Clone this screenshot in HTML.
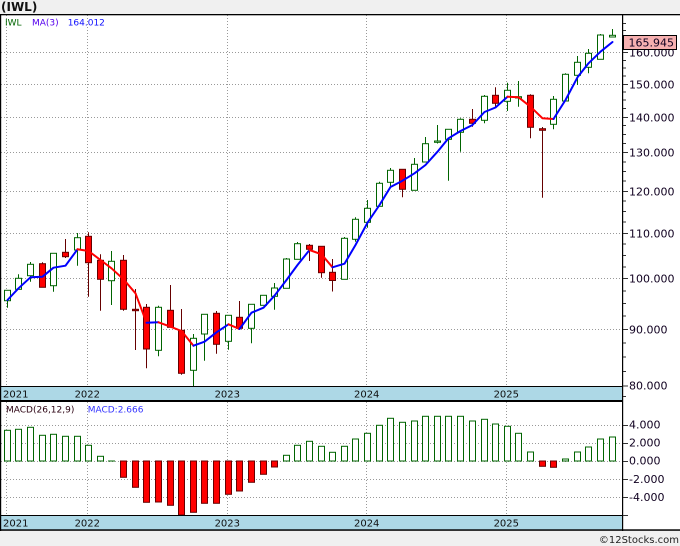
<!DOCTYPE html>
<html><head><meta charset="utf-8"><style>
html,body{margin:0;padding:0;background:#f0f0f0;}
svg{display:block;}
text{font-family:"DejaVu Sans","Liberation Sans",sans-serif;}
.g{fill:#fff;stroke:#006400;stroke-width:1}
.r{fill:#f00;stroke:#600;stroke-width:1}
.gw{stroke:#006400;stroke-width:1;fill:none}
.rw{stroke:#600;stroke-width:1;fill:none}
.grid{stroke:#999;stroke-width:1;stroke-dasharray:1,2;fill:none}
.tk{stroke:#333;stroke-width:1}
.ax{font-size:11px;fill:#100020}
.yr{font-size:10px;fill:#101010}
</style></head><body>
<svg width="680" height="546" viewBox="0 0 680 546" xmlns="http://www.w3.org/2000/svg">
<rect x="0" y="0" width="680" height="546" fill="#f0f0f0"/>
<text x="1" y="11" font-size="12" font-weight="bold" fill="#111" style="font-family:'DejaVu Sans',sans-serif">(IWL)</text>
<rect x="0" y="14" width="680" height="517" fill="#fff"/>

<!-- main grid -->
<g class="grid">
<path d="M1 52.5H622M1 84.5H622M1 117.5H622M1 152.5H622M1 191.5H622M1 233.5H622M1 278.5H622M1 329.5H622"/>
<path d="M6.5 15V386M87.5 15V386M227.5 15V386M366.5 15V386M506.5 15V386"/>
<path d="M1 425.5H622M1 443.5H622M1 461.5H622M1 479.5H622M1 497.5H622"/>
<path d="M6.5 402V515M87.5 402V515M227.5 402V515M366.5 402V515M506.5 402V515"/>
</g>

<!-- legend -->
<text x="5" y="25.5" font-size="9" fill="#006600">IWL</text>
<text x="32" y="25.5" font-size="9" fill="#5500ee">MA(3)</text>
<text x="67.7" y="25.5" font-size="9" fill="#1010ff">164.012</text>

<!-- candles -->
<path class="gw" d="M7.5 290.3V307.7"/><rect class="g" x="4.5" y="290.3" width="6" height="10.4"/>
<path class="gw" d="M18.5 274.3V289.3"/><rect class="g" x="15.5" y="278.3" width="6" height="11"/>
<path class="gw" d="M30.5 262V281.7"/><rect class="g" x="27.5" y="264.3" width="6" height="11.4"/>
<path class="rw" d="M42.5 262.3V287.3"/><rect class="r" x="39.5" y="263.7" width="6" height="23.6"/>
<path class="gw" d="M53.5 253.3V291.7"/><rect class="g" x="50.5" y="253.3" width="6" height="32.4"/>
<path class="rw" d="M65.5 239V258"/><rect class="r" x="62.5" y="252.3" width="6" height="4.4"/>
<path class="gw" d="M77.5 233V265.7"/><rect class="g" x="74.5" y="237.7" width="6" height="12.3"/>
<path class="rw" d="M88.5 232.3V296.7"/><rect class="r" x="85.5" y="236.3" width="6" height="26.4"/>
<path class="rw" d="M100.5 254.3V310.7"/><rect class="r" x="97.5" y="260.3" width="6" height="19"/>
<path class="gw" d="M111.5 251V305"/><rect class="g" x="108.5" y="261.3" width="6" height="19.4"/>
<path class="rw" d="M123.5 255V310.7"/><rect class="r" x="120.5" y="260.3" width="6" height="49"/>
<path class="rw" d="M135.5 289V350"/><rect class="r" x="132.5" y="309.3" width="6" height="1.4"/>
<path class="rw" d="M146.5 304V368.3"/><rect class="r" x="143.5" y="307.3" width="6" height="41.7"/>
<path class="gw" d="M158.5 305.7V356.3"/><rect class="g" x="155.5" y="307.3" width="6" height="43"/>
<path class="rw" d="M170.5 285V327.3"/><rect class="r" x="167.5" y="310.3" width="6" height="17"/>
<path class="rw" d="M181.5 309V374.7"/><rect class="r" x="178.5" y="330.3" width="6" height="43"/>
<path class="gw" d="M193.5 334V386"/><rect class="g" x="190.5" y="338.3" width="6" height="32"/>
<path class="gw" d="M204.5 314.3V360.7"/><rect class="g" x="201.5" y="314.3" width="6" height="19.7"/>
<path class="rw" d="M216.5 311V353.7"/><rect class="r" x="213.5" y="313.3" width="6" height="31"/>
<path class="gw" d="M228.5 315.3V349.7"/><rect class="g" x="225.5" y="315.3" width="6" height="26"/>
<path class="rw" d="M239.5 301V329.3"/><rect class="r" x="236.5" y="317.3" width="6" height="11"/>
<path class="gw" d="M251.5 304.3V343.3"/><rect class="g" x="248.5" y="304.3" width="6" height="24"/>
<path class="gw" d="M263.5 295.3V305.3"/><rect class="g" x="260.5" y="295.3" width="6" height="10"/>
<path class="gw" d="M274.5 283V309.7"/><rect class="g" x="271.5" y="288" width="6" height="8.3"/>
<path class="gw" d="M286.5 258V288.3"/><rect class="g" x="283.5" y="259" width="6" height="29.3"/>
<path class="gw" d="M297.5 242V259.3"/><rect class="g" x="294.5" y="243.7" width="6" height="15.6"/>
<path class="rw" d="M309.5 244V261"/><rect class="r" x="306.5" y="245.3" width="6" height="4"/>
<path class="rw" d="M321.5 246.3V277.7"/><rect class="r" x="318.5" y="246.3" width="6" height="26.4"/>
<path class="rw" d="M332.5 259V291.5"/><rect class="r" x="329.5" y="272.3" width="6" height="8.2"/>
<path class="gw" d="M344.5 237V279.3"/><rect class="g" x="341.5" y="238.3" width="6" height="41"/>
<path class="gw" d="M355.5 217.3V241.7"/><rect class="g" x="352.5" y="219.3" width="6" height="20"/>
<path class="gw" d="M367.5 200V227.7"/><rect class="g" x="364.5" y="208.3" width="6" height="14"/>
<path class="gw" d="M379.5 181.7V206.3"/><rect class="g" x="376.5" y="183.3" width="6" height="23"/>
<path class="gw" d="M390.5 168V186.7"/><rect class="g" x="387.5" y="170.3" width="6" height="12"/>
<path class="rw" d="M402.5 169.3V197.3"/><rect class="r" x="399.5" y="169.3" width="6" height="20"/>
<path class="gw" d="M414.5 158V190.3"/><rect class="g" x="411.5" y="164.3" width="6" height="26"/>
<path class="gw" d="M425.5 137V162"/><rect class="g" x="422.5" y="143.7" width="6" height="18.3"/>
<path class="gw" d="M437.5 125V143.5"/><rect class="g" x="434.5" y="141" width="6" height="1.3"/>
<path class="gw" d="M448.5 129.3V180.7"/><rect class="g" x="445.5" y="129.3" width="6" height="10"/>
<path class="gw" d="M460.5 118.3V151.7"/><rect class="g" x="457.5" y="119.3" width="6" height="13"/>
<path class="rw" d="M472.5 109V126.7"/><rect class="r" x="469.5" y="119.3" width="6" height="4"/>
<path class="gw" d="M484.5 95V123.3"/><rect class="g" x="481.5" y="96.3" width="6" height="24"/>
<path class="rw" d="M495.5 87.3V106.7"/><rect class="r" x="492.5" y="95.3" width="6" height="8"/>
<path class="gw" d="M507.5 82.7V111"/><rect class="g" x="504.5" y="90.3" width="6" height="11"/>
<path class="gw" d="M518.5 81V106.7"/><rect class="g" x="515.5" y="96.7" width="6" height="1.3"/>
<path class="rw" d="M530.5 94.3V138.3"/><rect class="r" x="527.5" y="95.3" width="6" height="32"/>
<path class="rw" d="M542.5 127V197.7"/><rect class="r" x="539.5" y="128.7" width="6" height="1.6"/>
<path class="gw" d="M553.5 96V129.3"/><rect class="g" x="550.5" y="99.3" width="6" height="25"/>
<path class="gw" d="M565.5 73.3V101"/><rect class="g" x="562.5" y="74.3" width="6" height="26.7"/>
<path class="gw" d="M577.5 56V85"/><rect class="g" x="574.5" y="62.3" width="6" height="13"/>
<path class="gw" d="M588.5 49V73.3"/><rect class="g" x="585.5" y="53.3" width="6" height="14"/>
<path class="gw" d="M600.5 34V59.3"/><rect class="g" x="597.5" y="35" width="6" height="24.3"/>
<path class="gw" d="M612.5 29V37"/><rect class="g" x="609.5" y="35.3" width="6" height="1.7"/>

<!-- MA(3) line -->
<g fill="none" stroke-width="2" stroke-linejoin="round" stroke-linecap="round">
<polyline stroke="#0000ff" points="7.5,300 18.5,288.3 30.5,277.3 42.5,276.7 53.5,267.7 65.5,265.7 77.5,249.3"/>
<polyline stroke="#ff0000" points="77.5,249.3 88.5,251 100.5,260 111.5,268.3 123.5,279.3 135.5,293.3 146.5,322.7"/>
<polyline stroke="#0000ff" points="146.5,322.7 158.5,322.3"/>
<polyline stroke="#ff0000" points="158.5,322.3 170.5,326.7 181.5,331 193.5,345.7"/>
<polyline stroke="#0000ff" points="193.5,345.7 204.5,341.7 216.5,332.3 228.5,324.3"/>
<polyline stroke="#ff0000" points="228.5,324.3 239.5,329"/>
<polyline stroke="#0000ff" points="239.5,329 251.5,312.7 263.5,307.7 274.5,295.7 286.5,280 297.5,265 309.5,250"/>
<polyline stroke="#ff0000" points="309.5,250 321.5,254.3 332.5,267.3"/>
<polyline stroke="#0000ff" points="332.5,267.3 344.5,263.7 355.5,245 367.5,222.7 379.5,205 390.5,187 402.5,180.7 414.5,173.3 425.5,165 437.5,151.7 448.5,138.3 460.5,131 472.5,125 484.5,112 495.5,107.5 507.5,96.7"/>
<polyline stroke="#ff0000" points="507.5,96.7 518.5,97.3 530.5,106.7 542.5,118.3 553.5,119"/>
<polyline stroke="#0000ff" points="553.5,119 565.5,100 577.5,77.3 588.5,63.3 600.5,51.7 612.5,42"/>
</g>

<!-- MACD legend -->
<text x="6" y="412.7" font-size="9" fill="#2a0010">MACD(26,12,9)</text>
<text x="87.7" y="412.7" font-size="9" fill="#3333ff">MACD:2.666</text>

<!-- MACD bars -->
<rect class="g" x="4.5" y="430.3" width="6" height="30.7"/>
<rect class="g" x="15.5" y="429.3" width="6" height="31.7"/>
<rect class="g" x="27.5" y="427.3" width="6" height="33.7"/>
<rect class="g" x="39.5" y="435.3" width="6" height="25.7"/>
<rect class="g" x="50.5" y="434.3" width="6" height="26.7"/>
<rect class="g" x="62.5" y="436.3" width="6" height="24.7"/>
<rect class="g" x="74.5" y="436.3" width="6" height="24.7"/>
<rect class="g" x="85.5" y="445.3" width="6" height="15.7"/>
<rect class="g" x="97.5" y="456.3" width="6" height="4.7"/>
<path class="gw" d="M108 461H115"/>
<rect class="r" x="120.5" y="461" width="6" height="16.3"/>
<rect class="r" x="132.5" y="461" width="6" height="26.3"/>
<rect class="r" x="143.5" y="461" width="6" height="41.3"/>
<rect class="r" x="155.5" y="461" width="6" height="41"/>
<rect class="r" x="167.5" y="461" width="6" height="44.3"/>
<rect class="r" x="178.5" y="461" width="6" height="54"/>
<rect class="r" x="190.5" y="461" width="6" height="51.3"/>
<rect class="r" x="201.5" y="461" width="6" height="42.3"/>
<rect class="r" x="213.5" y="461" width="6" height="42.3"/>
<rect class="r" x="225.5" y="461" width="6" height="33.3"/>
<rect class="r" x="236.5" y="461" width="6" height="30"/>
<rect class="r" x="248.5" y="461" width="6" height="21.3"/>
<rect class="r" x="260.5" y="461" width="6" height="13.3"/>
<rect class="r" x="271.5" y="461" width="6" height="6"/>
<rect class="g" x="283.5" y="455.3" width="6" height="5.7"/>
<rect class="g" x="294.5" y="445.3" width="6" height="15.7"/>
<rect class="g" x="306.5" y="441.3" width="6" height="19.7"/>
<rect class="g" x="318.5" y="446.3" width="6" height="14.7"/>
<rect class="g" x="329.5" y="452.3" width="6" height="8.7"/>
<rect class="g" x="341.5" y="446.3" width="6" height="14.7"/>
<rect class="g" x="352.5" y="439" width="6" height="22"/>
<rect class="g" x="364.5" y="433.3" width="6" height="27.7"/>
<rect class="g" x="376.5" y="425.3" width="6" height="35.7"/>
<rect class="g" x="387.5" y="418.3" width="6" height="42.7"/>
<rect class="g" x="399.5" y="422.3" width="6" height="38.7"/>
<rect class="g" x="411.5" y="421" width="6" height="40"/>
<rect class="g" x="422.5" y="416.3" width="6" height="44.7"/>
<rect class="g" x="434.5" y="416.3" width="6" height="44.7"/>
<rect class="g" x="445.5" y="416.3" width="6" height="44.7"/>
<rect class="g" x="457.5" y="416.3" width="6" height="44.7"/>
<rect class="g" x="469.5" y="421" width="6" height="40"/>
<rect class="g" x="481.5" y="419.3" width="6" height="41.7"/>
<rect class="g" x="492.5" y="424" width="6" height="37"/>
<rect class="g" x="504.5" y="426.3" width="6" height="34.7"/>
<rect class="g" x="515.5" y="433.3" width="6" height="27.7"/>
<rect class="g" x="527.5" y="452" width="6" height="9"/>
<rect class="r" x="539.5" y="461" width="6" height="5.3"/>
<rect class="r" x="550.5" y="461" width="6" height="6.3"/>
<rect class="g" x="562.5" y="459" width="6" height="2"/>
<rect class="g" x="574.5" y="452" width="6" height="9"/>
<rect class="g" x="585.5" y="447" width="6" height="14"/>
<rect class="g" x="597.5" y="439" width="6" height="22"/>
<rect class="g" x="609.5" y="437" width="6" height="24"/>

<!-- date bars -->
<rect x="1" y="386" width="621.5" height="14.5" fill="#add8e6"/>
<rect x="1" y="515" width="621.5" height="14.5" fill="#add8e6"/>
<path d="M0 386.5H622.5M0 515.5H622.5" stroke="#000" stroke-width="1"/>
<rect x="0" y="400" width="623" height="2" fill="#000"/>
<rect x="0" y="529.3" width="680" height="1.5" fill="#000"/>
<text class="yr" x="3" y="397.5">2021</text>
<text class="yr" x="87.3" y="397.5" text-anchor="middle">2022</text>
<text class="yr" x="227.3" y="397.5" text-anchor="middle">2023</text>
<text class="yr" x="366.7" y="397.5" text-anchor="middle">2024</text>
<text class="yr" x="506.3" y="397.5" text-anchor="middle">2025</text>
<text class="yr" x="3" y="526.5">2021</text>
<text class="yr" x="87.3" y="526.5" text-anchor="middle">2022</text>
<text class="yr" x="227.3" y="526.5" text-anchor="middle">2023</text>
<text class="yr" x="366.7" y="526.5" text-anchor="middle">2024</text>
<text class="yr" x="506.3" y="526.5" text-anchor="middle">2025</text>

<!-- borders -->
<rect x="0" y="14" width="680" height="1.3" fill="#000"/>
<rect x="0" y="14" width="1.2" height="517" fill="#000"/>
<rect x="622" y="14" width="1.2" height="517" fill="#000"/>

<!-- right axis ticks -->
<path class="tk" d="M623 52.5H628M623 84.5H628M623 117.5H628M623 152.5H628M623 191.5H628M623 233.5H628M623 278.5H628M623 329.5H628M623 386H628"/>
<path class="tk" d="M623 371.5H626M623 357H626M623 343H626M623 316H626M623 303.5H626M623 291H626M623 267H626M623 255.5H626M623 244H626M623 222H626M623 211.5H626M623 201H626M623 181H626M623 171.5H626M623 162H626M623 143.5H626M623 134.5H626M623 125.5H626M623 108.5H626M623 100H626M623 92H626M623 76H626M623 68H626M623 60.5H626M623 45.5H626M623 38H626M623 30.5H626M623 23.5H626M623 396.5H626"/>
<path class="tk" d="M623 425.5H628M623 443.5H628M623 461.5H628M623 479.5H628M623 497.5H628M623 515.5H628"/>

<text class="ax" x="629" y="56.5">160.000</text>
<text class="ax" x="629" y="88.5">150.000</text>
<text class="ax" x="629" y="121.5">140.000</text>
<text class="ax" x="629" y="156.5">130.000</text>
<text class="ax" x="629" y="195.5">120.000</text>
<text class="ax" x="629" y="237.5">110.000</text>
<text class="ax" x="629" y="282.5">100.000</text>
<text class="ax" x="629" y="333.5">90.000</text>
<text class="ax" x="629" y="389.5">80.000</text>
<text class="ax" x="629" y="428.5">4.000</text>
<text class="ax" x="629" y="446.5">2.000</text>
<text class="ax" x="629" y="464.5">0.000</text>
<text class="ax" x="629" y="483">-2.000</text>
<text class="ax" x="629" y="501">-4.000</text>

<!-- last price box -->
<rect x="623.5" y="35.5" width="53" height="14" fill="#f6b0b0" stroke="#000" stroke-width="1"/>
<text class="ax" x="628.5" y="46.5">165.945</text>

<text x="679" y="543" font-size="10" fill="#222" text-anchor="end">©12Stocks.com</text>
</svg>
</body></html>
